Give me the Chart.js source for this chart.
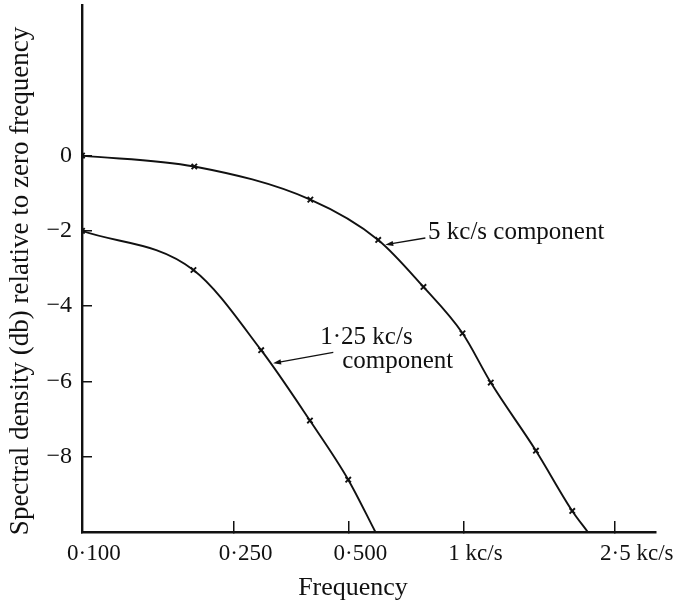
<!DOCTYPE html>
<html>
<head>
<meta charset="utf-8">
<script src="https://cdn.jsdelivr.net/npm/chart.js@4.4.1/dist/chart.umd.min.js"></script>
<style>
  html, body { margin: 0; padding: 0; background: #fff; }
  canvas { display: block; }
</style>
</head>
<body>
<canvas id="c" width="681" height="601"></canvas>
<script>
// Axis ticks
const xTickValues = [0.1, 0.25, 0.5, 1, 2.5];
const xTickLabels = ['0·100', '0·250', '0·500', '1 kc/s', '2·5 kc/s'];
const yTickValues = [-8, -6, -4, -2, 0];
const yTickLabels = ['−8', '−6', '−4', '−2', '0'];

// 5 kc/s component: frequency (kc/s) and spectral density (db)
// (the last pair is where the curve meets the bottom axis)
const freq5k = [0.1, 0.197, 0.397, 0.598, 0.786, 0.995, 1.18, 1.55, 1.93, 2.12];
const db5k   = [0, -0.29, -1.17, -2.24, -3.49, -4.72, -6.03, -7.84, -9.44, -10];

// 1.25 kc/s component
const freq1k25 = [0.1, 0.196, 0.295, 0.396, 0.499, 0.588];
const db1k25   = [-2, -3.04, -5.17, -7.04, -8.61, -10];

const INK = '#111';
const SERIF = "'Liberation Serif', 'DejaVu Serif', serif";

function points(xs, ys) {
  return xs.map((x, i) => ({ x, y: ys[i] }));
}

// No marker on the point where a curve runs into the axis
const markerRadius = ctx => (ctx.dataIndex === ctx.dataset.data.length - 1 ? 0 : 3.8);

function curve(xs, ys) {
  return {
    data: points(xs, ys),
    borderColor: INK,
    borderWidth: 1.9,
    cubicInterpolationMode: 'monotone',
    pointStyle: 'crossRot',
    pointRadius: markerRadius,
    pointBorderColor: INK,
    pointBorderWidth: 1.9,
    fill: false
  };
}

// Labelled arrows pointing at each curve, in data coordinates
const callouts = [
  {
    lines: [{ text: '5 kc/s component', at: [0.808, -2.21] }],
    tail: [0.795, -2.19],
    tip: [0.624, -2.37]
  },
  {
    lines: [
      { text: '1·25 kc/s', at: [0.4215, -5.01] },
      { text: 'component', at: [0.481, -5.63] }
    ],
    tail: [0.456, -5.23],
    tip: [0.317, -5.52]
  }
];

const decorations = {
  id: 'decorations',
  afterDatasetsDraw(chart) {
    const { ctx, scales: { x, y } } = chart;
    ctx.save();
    ctx.fillStyle = INK;
    ctx.strokeStyle = INK;
    ctx.font = '25px ' + SERIF;
    ctx.textBaseline = 'alphabetic';
    ctx.textAlign = 'left';
    callouts.forEach(c => {
      c.lines.forEach(l => {
        ctx.fillText(l.text, x.getPixelForValue(l.at[0]), y.getPixelForValue(l.at[1]));
      });
      const tx = x.getPixelForValue(c.tail[0]), ty = y.getPixelForValue(c.tail[1]);
      const hx = x.getPixelForValue(c.tip[0]), hy = y.getPixelForValue(c.tip[1]);
      const ang = Math.atan2(hy - ty, hx - tx);
      ctx.lineWidth = 1.3;
      ctx.beginPath();
      ctx.moveTo(tx, ty);
      ctx.lineTo(hx - 5 * Math.cos(ang), hy - 5 * Math.sin(ang));
      ctx.stroke();
      ctx.beginPath();
      ctx.moveTo(hx, hy);
      ctx.lineTo(hx - 8 * Math.cos(ang) + 2.6 * Math.sin(ang), hy - 8 * Math.sin(ang) - 2.6 * Math.cos(ang));
      ctx.lineTo(hx - 8 * Math.cos(ang) - 2.6 * Math.sin(ang), hy - 8 * Math.sin(ang) + 2.6 * Math.cos(ang));
      ctx.closePath();
      ctx.fill();
    });
    ctx.restore();
  },
  afterDraw(chart) {
    const { ctx, chartArea } = chart;
    ctx.save();
    ctx.fillStyle = INK;
    ctx.textAlign = 'center';
    ctx.textBaseline = 'middle';
    // x-axis title
    ctx.font = '26px ' + SERIF;
    ctx.fillText('Frequency', chartArea.left + 271, 588);
    // y-axis title, read bottom to top
    ctx.font = '27px ' + SERIF;
    ctx.translate(21, chartArea.top + 276);
    ctx.rotate(-Math.PI / 2);
    ctx.fillText('Spectral density (db) relative to zero frequency', 0, 0);
    ctx.restore();
  }
};

new Chart(document.getElementById('c'), {
  type: 'line',
  data: {
    datasets: [curve(freq5k, db5k), curve(freq1k25, db1k25)]
  },
  options: {
    responsive: false,
    animation: false,
    devicePixelRatio: 1,
    layout: { autoPadding: false, padding: { top: 5, right: 25, left: 0, bottom: 0 } },
    plugins: { legend: { display: false }, tooltip: { enabled: false } },
    scales: {
      x: {
        type: 'logarithmic',
        min: 0.1,
        max: 3.2,
        afterBuildTicks: s => { s.ticks = xTickValues.map(v => ({ value: v })); },
        afterFit: s => { s.height = 69; s.paddingLeft = 0; s.paddingRight = 0; },
        border: { display: true, color: INK, width: 2.4 },
        grid: { display: true, drawOnChartArea: false, drawTicks: true, tickLength: -11, color: INK, lineWidth: 1.5 },
        ticks: {
          callback: (v, i) => xTickLabels[i],
          color: INK,
          font: { family: SERIF, size: 23 },
          align: 'start',
          labelOffset: -15,
          padding: 19,
          maxRotation: 0,
          autoSkip: false
        }
      },
      y: {
        type: 'linear',
        min: -10,
        max: 4,
        afterBuildTicks: s => { s.ticks = yTickValues.map(v => ({ value: v })); },
        afterFit: s => { s.width = 82; s.paddingTop = 0; s.paddingBottom = 0; },
        border: { display: true, color: INK, width: 2.4 },
        grid: { display: true, drawOnChartArea: false, drawTicks: true, tickLength: -10, color: INK, lineWidth: 1.5 },
        ticks: {
          callback: (v, i) => yTickLabels[i],
          color: INK,
          font: { family: SERIF, size: 24 },
          padding: 20,
          autoSkip: false
        }
      }
    }
  },
  plugins: [decorations]
});
</script>
</body>
</html>
